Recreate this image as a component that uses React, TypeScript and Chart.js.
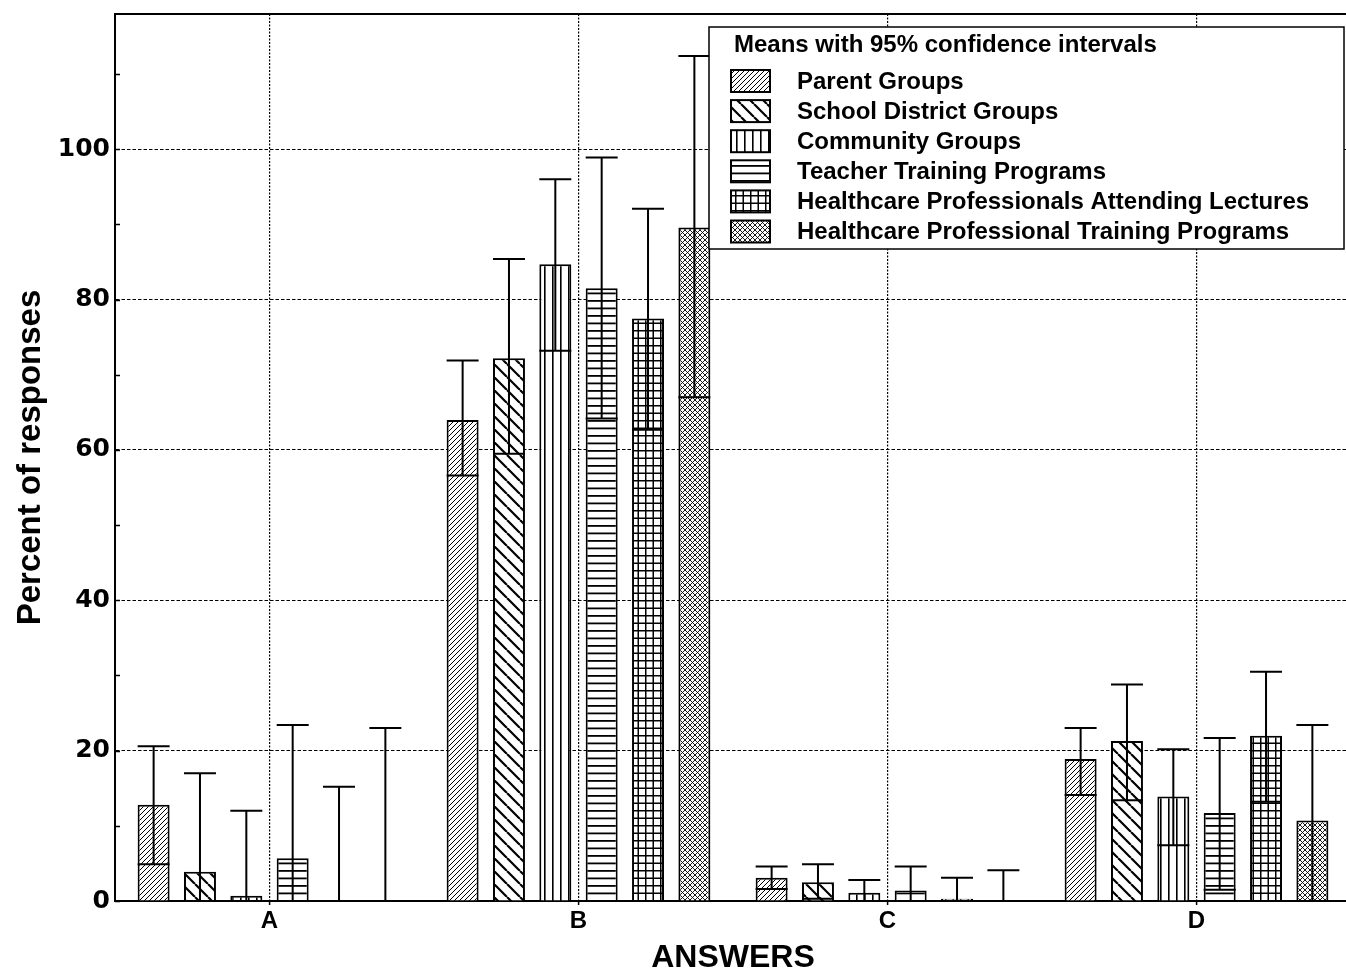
import React, { useEffect, useRef } from 'react';
import { Chart, registerables } from 'chart.js';

Chart.register(...registerables);

// ---------- data ----------
const CATEGORIES = ['A', 'B', 'C', 'D'];
const SERIES_NAMES = [
  'Parent Groups',
  'School District Groups',
  'Community Groups',
  'Teacher Training Programs',
  'Healthcare Professionals Attending Lectures',
  'Healthcare Professional Training Programs',
];

const PARENT_MEAN = [12.8, 64.0, 3.1, 18.9];
const PARENT_LOW = [4.9, 56.6, 1.6, 14.1];
const PARENT_HIGH = [20.6, 71.9, 4.6, 23.0];

const SCHOOL_MEAN = [3.9, 72.2, 2.5, 21.3];
const SCHOOL_LOW = [0, 59.5, 0.3, 13.4];
const SCHOOL_HIGH = [17.0, 85.4, 4.9, 28.8];

const COMMUNITY_MEAN = [0.7, 84.7, 1.1, 13.9];
const COMMUNITY_LOW = [0, 73.2, 0, 7.4];
const COMMUNITY_HIGH = [12.0, 96.0, 2.8, 20.2];

const TEACHER_MEAN = [5.7, 81.5, 1.4, 11.7];
const TEACHER_LOW = [0, 64.2, 0, 1.5];
const TEACHER_HIGH = [23.4, 98.9, 4.6, 21.7];

const HPAL_MEAN = [0, 77.5, 0.3, 22.0];
const HPAL_LOW = [0, 62.7, 0, 13.2];
const HPAL_HIGH = [15.2, 92.1, 3.1, 30.5];

const HPTP_MEAN = [0, 89.6, 0, 10.7];
const HPTP_LOW = [0, 67.0, 0, 0];
const HPTP_HIGH = [23.0, 112.4, 4.1, 23.4];

const MEANS = [PARENT_MEAN, SCHOOL_MEAN, COMMUNITY_MEAN, TEACHER_MEAN, HPAL_MEAN, HPTP_MEAN];
const LOWS = [PARENT_LOW, SCHOOL_LOW, COMMUNITY_LOW, TEACHER_LOW, HPAL_LOW, HPTP_LOW];
const HIGHS = [PARENT_HIGH, SCHOOL_HIGH, COMMUNITY_HIGH, TEACHER_HIGH, HPAL_HIGH, HPTP_HIGH];

const Y_MAX = 118;
const Y_TICKS = [0, 20, 40, 60, 80, 100];
const Y_SMALL_TICKS = [0, 10, 20, 30, 40, 50, 60, 70, 80, 90, 100, 110];
const X_TITLE = 'ANSWERS';
const Y_TITLE = 'Percent of responses';
const LEGEND_TITLE = 'Means with 95% confidence intervals';

// ---------- styles ----------
const PATTERN_KINDS = ['fineDiag', 'wideDiag', 'vert', 'horiz', 'grid', 'cross'];
const SANS = '"Liberation Sans", Arial, sans-serif';

function makePattern(kind: string, main: CanvasRenderingContext2D): CanvasPattern {
  const sizes: Record<string, [number, number]> = {
    fineDiag: [5, 5],
    wideDiag: [13, 13],
    vert: [8, 8],
    horiz: [8, 15],
    grid: [15, 15],
    cross: [5, 5],
  };
  const [w, h] = sizes[kind];
  const c = document.createElement('canvas');
  c.width = w;
  c.height = h;
  const g = c.getContext('2d')!;
  g.fillStyle = '#fff';
  g.fillRect(0, 0, w, h);
  g.strokeStyle = '#000';
  g.fillStyle = '#000';
  switch (kind) {
    case 'fineDiag':
      g.lineWidth = 1;
      g.beginPath();
      for (const k of [-w, 0, w]) {
        g.moveTo(k, h);
        g.lineTo(k + w, 0);
      }
      g.stroke();
      break;
    case 'wideDiag':
      g.lineWidth = 2.2;
      g.beginPath();
      for (const k of [-w, 0, w]) {
        g.moveTo(k, 0);
        g.lineTo(k + w, h);
      }
      g.stroke();
      break;
    case 'vert':
      g.fillRect(0, 0, 1.6, h);
      break;
    case 'horiz':
      g.fillRect(0, 0, w, 1.8);
      g.fillRect(0, 7.5, w, 1.8);
      break;
    case 'grid':
      g.fillRect(0, 0, 1.5, h);
      g.fillRect(7.5, 0, 1.5, h);
      g.fillRect(0, 0, w, 1.5);
      g.fillRect(0, 7.5, w, 1.5);
      break;
    case 'cross':
      g.lineWidth = 0.9;
      g.beginPath();
      g.moveTo(0, 0);
      g.lineTo(w, h);
      g.moveTo(w, 0);
      g.lineTo(0, h);
      g.stroke();
      break;
  }
  return main.createPattern(c, 'repeat')!;
}

export default function App() {
  const ref = useRef<HTMLCanvasElement | null>(null);

  useEffect(() => {
    const canvas = ref.current!;
    const ctx0 = canvas.getContext('2d')!;
    const patterns = PATTERN_KINDS.map((k) => makePattern(k, ctx0));

    const decor = {
      id: 'decor',
      afterDatasetsDraw(chart: any) {
        const { ctx, chartArea, scales } = chart;
        const y = scales.y;
        ctx.save();
        ctx.strokeStyle = '#000';
        ctx.lineWidth = 2;
        ctx.setLineDash([]);
        for (let i = 0; i < MEANS.length; i++) {
          const meta = chart.getDatasetMeta(i);
          meta.data.forEach((el: any, j: number) => {
            const { x, width } = el.getProps(['x', 'width'], true);
            const yh = y.getPixelForValue(HIGHS[i][j]);
            const yl = y.getPixelForValue(LOWS[i][j]);
            ctx.beginPath();
            ctx.moveTo(x, yl);
            ctx.lineTo(x, yh);
            ctx.moveTo(x - width / 2, yh);
            ctx.lineTo(x + width / 2, yh);
            ctx.moveTo(x - width / 2, yl);
            ctx.lineTo(x + width / 2, yl);
            ctx.stroke();
          });
        }
        // small inner ticks on y axis
        ctx.lineWidth = 1.5;
        ctx.beginPath();
        for (const v of Y_SMALL_TICKS) {
          const py = Math.round(y.getPixelForValue(v)) + 0.5;
          ctx.moveTo(chartArea.left, py);
          ctx.lineTo(chartArea.left + 5, py);
        }
        ctx.stroke();
        // top and right frame
        ctx.lineWidth = 2;
        ctx.beginPath();
        ctx.moveTo(chartArea.left, chartArea.top);
        ctx.lineTo(chartArea.right, chartArea.top);
        ctx.lineTo(chartArea.right, chartArea.bottom);
        ctx.stroke();
        ctx.restore();
      },
      afterDraw(chart: any) {
        const { ctx } = chart;
        ctx.save();
        const bx = 709, by = 27, bw = 635, bh = 222;
        ctx.fillStyle = '#fff';
        ctx.fillRect(bx, by, bw, bh);
        ctx.strokeStyle = '#000';
        ctx.lineWidth = 1.5;
        ctx.setLineDash([]);
        ctx.strokeRect(bx, by, bw, bh);
        ctx.fillStyle = '#000';
        ctx.font = `bold 24px ${SANS}`;
        ctx.textBaseline = 'middle';
        ctx.textAlign = 'left';
        ctx.fillText(LEGEND_TITLE, 734, 45);
        SERIES_NAMES.forEach((name, i) => {
          const cy = 81 + i * 30.1;
          ctx.fillStyle = patterns[i];
          ctx.fillRect(731, cy - 11, 39, 22);
          ctx.lineWidth = 2;
          ctx.strokeStyle = '#000';
          ctx.strokeRect(731, cy - 11, 39, 22);
          ctx.fillStyle = '#000';
          ctx.fillText(name, 797, cy + 1);
        });
        ctx.restore();
      },
    };

    const chart = new Chart(canvas, {
      type: 'bar',
      data: {
        labels: CATEGORIES,
        datasets: MEANS.map((m, i) => ({
          label: SERIES_NAMES[i],
          data: m,
          backgroundColor: patterns[i],
          borderColor: '#000',
          borderWidth: 2,
          categoryPercentage: 0.9,
          barPercentage: 0.69,
        })),
      },
      options: {
        responsive: false,
        animation: false,
        devicePixelRatio: 1,
        layout: { padding: { top: 14, right: 5, left: 0, bottom: 0 } },
        plugins: { legend: { display: false }, tooltip: { enabled: false } },
        scales: {
          x: {
            grid: {
              offset: false,
              color: '#000',
              lineWidth: 1.2,
              drawTicks: true,
              tickLength: 4,
              tickColor: '#000',
              tickWidth: 1.5,
            },
            border: { display: true, color: '#000', width: 2, dash: [2, 1.5] },
            ticks: {
              font: { family: SANS, weight: 'bold', size: 24, lineHeight: 1.2 },
              color: '#000',
              padding: 2,
            },
            title: {
              display: true,
              text: X_TITLE,
              font: { family: SANS, weight: 'bold', size: 32, lineHeight: 0.8 },
              color: '#000',
              padding: 0,
            },
            afterFit(scale: any) {
              scale.height = 70;
              scale.paddingLeft = 0;
              scale.paddingRight = 0;
            },
          },
          y: {
            min: 0,
            max: Y_MAX,
            afterBuildTicks(scale: any) {
              scale.ticks = Y_TICKS.map((v) => ({ value: v }));
            },
            grid: { color: '#000', lineWidth: 1, drawTicks: false },
            border: { display: true, color: '#000', width: 2, dash: [3.5, 2] },
            ticks: {
              font: { family: '"DejaVu Sans", sans-serif', weight: 'bold', size: 25 },
              color: '#000',
              padding: 5,
            },
            title: {
              display: true,
              text: Y_TITLE,
              font: { family: SANS, weight: 'bold', size: 33, lineHeight: 1.2 },
              color: '#000',
              padding: { top: 11, bottom: 0 },
            },
            afterFit(scale: any) {
              scale.width = 115;
              scale.paddingTop = 0;
              scale.paddingBottom = 0;
            },
          },
        },
      } as any,
      plugins: [decor],
    });

    return () => chart.destroy();
  }, []);

  return (
    <div
      style={{
        position: 'absolute',
        left: 0,
        top: 0,
        width: 1346,
        height: 971,
        overflow: 'hidden',
        background: '#fff',
      }}
    >
      <canvas ref={ref} width={1356} height={971} style={{ display: 'block', width: 1356, height: 971 }} />
    </div>
  );
}
